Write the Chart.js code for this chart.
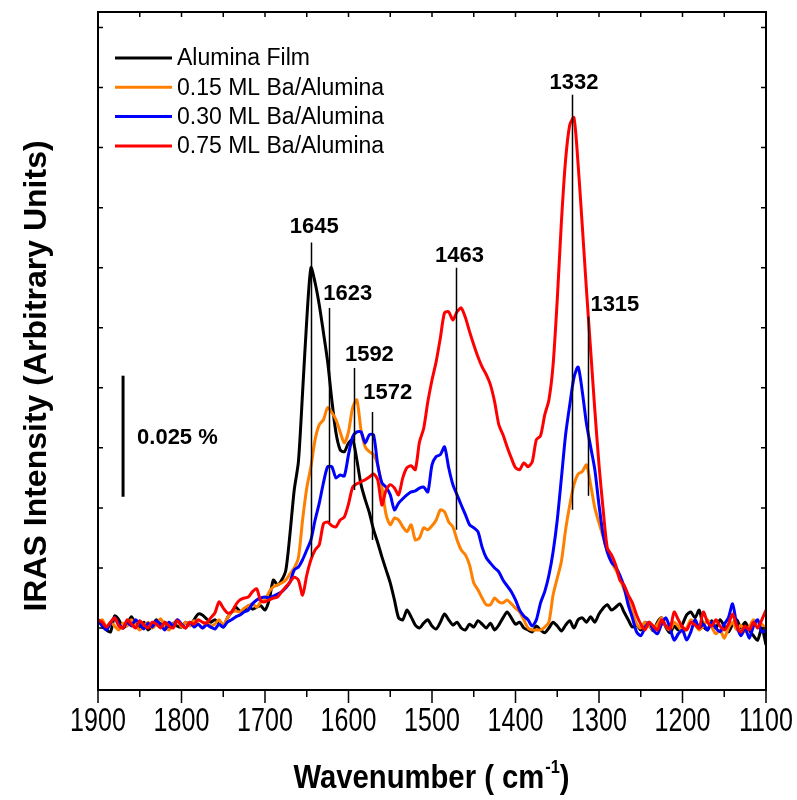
<!DOCTYPE html>
<html>
<head>
<meta charset="utf-8">
<script src="https://cdn.jsdelivr.net/npm/chart.js@4.4.0/dist/chart.umd.min.js"></script>
<style>
  html, body { margin: 0; padding: 0; background: #fff; }
  #wrap { width: 797px; height: 800px; }
</style>
</head>
<body>
<div id="wrap"><canvas id="irasChart" width="797" height="800"></canvas></div>
<script>
// wavenumber grid (cm-1), 1900 -> 1100
const wavenumbers = [
  1900,1895,1890,1885,1880,1875,1870,1865,1860,1855,
  1850,1845,1840,1835,1830,1825,1820,1815,1810,1805,
  1800,1795,1790,1785,1780,1775,1770,1765,1760,1755,
  1750,1745,1740,1735,1730,1725,1720,1715,1710,1705,
  1700,1695,1690,1685,1680,1675,1670,1665,1660,1655,
  1650,1645,1640,1635,1630,1625,1620,1615,1610,1605,
  1600,1595,1590,1585,1580,1575,1570,1565,1560,1555,
  1550,1545,1540,1535,1530,1525,1520,1515,1510,1505,
  1500,1495,1490,1485,1480,1475,1470,1465,1460,1455,
  1450,1445,1440,1435,1430,1425,1420,1415,1410,1405,
  1400,1395,1390,1385,1380,1375,1370,1365,1360,1355,
  1350,1345,1340,1335,1330,1325,1320,1315,1310,1305,
  1300,1295,1290,1285,1280,1275,1270,1265,1260,1255,
  1250,1245,1240,1235,1230,1225,1220,1215,1210,1205,
  1200,1195,1190,1185,1180,1175,1170,1165,1160,1155,
  1150,1145,1140,1135,1130,1125,1120,1115,1110,1105,
  1100
];

// intensities in units of 0.0001 % (scale bar 0.025 % = 250)
const aluminaFilm = [
  145,134,124,120,153,145,128,136,151,136,
  128,140,124,132,145,136,140,130,138,132,
  130,140,134,145,157,155,147,140,145,136,
  130,149,161,171,163,165,174,167,171,174,
  165,186,227,217,227,248,324,413,471,614,
  764,872,841,795,738,678,599,531,496,492,
  510,517,475,424,393,366,331,304,275,248,
  221,186,149,145,165,151,134,128,138,145,
  132,126,140,157,145,134,140,128,124,136,
  130,143,136,128,138,124,134,149,161,149,
  136,140,128,124,120,132,124,118,128,140,
  132,122,134,143,128,145,149,140,151,140,
  157,169,176,165,171,178,161,145,130,134,
  124,140,134,122,140,149,130,118,132,124,
  136,155,161,149,165,132,124,143,128,145,
  132,120,136,145,128,140,124,112,103,128,
  93
];

const ba015 = [
  136,145,130,140,132,124,138,132,145,134,
  124,132,140,128,136,147,132,124,136,145,
  130,140,132,143,136,128,140,132,136,145,
  134,149,161,163,161,169,174,178,171,182,
  186,203,213,217,221,227,240,252,273,351,
  417,461,517,548,558,583,573,558,533,510,
  533,583,599,537,502,492,486,465,419,362,
  341,355,351,337,327,341,310,314,335,331,
  339,351,372,368,347,337,310,289,279,258,
  221,207,190,176,176,190,182,180,186,178,
  169,161,145,128,124,124,124,130,140,196,
  231,266,331,382,424,446,451,465,424,376,
  345,316,285,264,248,231,207,186,161,136,
  128,140,132,124,136,149,132,124,140,132,
  120,128,145,136,124,132,145,130,116,124,
  107,128,140,124,134,120,130,145,128,136,
  124
];

const ba030 = [
  145,132,124,138,149,136,128,140,132,145,
  136,126,138,130,143,134,124,140,132,145,
  136,128,140,130,136,128,134,130,126,136,
  130,140,145,151,155,161,165,178,186,190,
  192,190,194,198,203,211,223,248,254,269,
  289,310,351,386,428,461,461,438,444,442,
  486,523,533,533,510,527,527,465,428,419,
  403,372,386,395,403,409,411,417,419,409,
  465,482,486,502,459,424,403,382,362,341,
  335,327,295,273,262,252,244,227,215,203,
  186,165,153,145,132,145,180,203,237,285,
  351,438,527,589,645,667,616,550,502,455,
  382,320,285,264,254,237,213,176,149,120,
  112,128,140,124,116,136,149,128,103,116,
  124,103,120,145,128,136,124,140,128,120,
  136,149,178,134,112,128,107,132,145,120,
  124
];

const ba075 = [
  145,140,130,140,149,132,128,145,136,128,
  143,134,128,140,136,128,140,132,128,143,
  134,128,140,136,145,140,138,149,159,182,
  169,159,161,176,186,190,192,203,209,184,
  182,186,190,192,203,213,223,233,227,196,
  237,269,289,300,343,347,339,337,351,357,
  384,419,426,430,434,440,446,434,382,413,
  424,417,403,438,459,463,455,512,540,595,
  640,678,727,779,781,764,781,789,769,740,
  713,688,667,651,630,595,548,527,502,479,
  459,455,469,461,471,517,525,568,599,671,
  806,967,1095,1167,1182,1085,958,826,702,578,
  465,372,293,279,258,227,217,196,180,155,
  136,124,140,132,124,145,132,126,161,145,
  130,124,140,134,128,161,140,132,145,132,
  124,136,157,132,120,132,124,140,128,145,
  165
];

// axis ticks
const xTicks = [1900, 1800, 1700, 1600, 1500, 1400, 1300, 1200, 1100];
const xMinorTicks = [1850, 1750, 1650, 1550, 1450, 1350, 1250, 1150];
const yTicks = [128, 252, 376, 500, 624, 748, 872, 996, 1120, 1244, 1368];

// peak markers
const peakLabels = ['1645', '1623', '1592', '1572', '1463', '1332', '1315'];
const peakLineWn = [1645, 1623, 1594, 1572, 1471, 1332, 1313];
const peakLineTop = [924, 789, 665, 574, 872, 1229, 771];
const peakLineBottom = [275, 347, 413, 310, 331, 372, 401];
const peakLabelWn = [1641, 1601, 1575, 1553, 1467, 1330, 1281];
const peakLabelY = [957, 818, 692, 614, 897, 1254, 795];

// scale bar (0.025 %)
const scaleBarWn = 1870;
const scaleBarRange = [399, 649];
const scaleBarText = '0.025 %';

const FONT = '"Liberation Sans", Arial, Helvetica, sans-serif';

function pts(vals) {
  return wavenumbers.map((w, i) => ({ x: w, y: vals[i] }));
}

// draws condensed text like the original figure's narrow face
function squeezed(ctx, text, x, y, sx) {
  ctx.save();
  ctx.translate(x, y);
  ctx.scale(sx, 1);
  ctx.fillText(text, 0, 0);
  ctx.restore();
}

const decor = {
  id: 'decor',
  afterDatasetsDraw(chart) {
    const { ctx, chartArea: a, scales: { x, y } } = chart;
    ctx.save();
    ctx.strokeStyle = '#000';
    ctx.fillStyle = '#000';

    // frame
    ctx.lineWidth = 2;
    ctx.strokeRect(a.left, a.top, a.right - a.left, a.bottom - a.top);

    // ticks
    ctx.lineWidth = 1.5;
    ctx.beginPath();
    xTicks.forEach(v => {
      const px = x.getPixelForValue(v);
      ctx.moveTo(px, a.bottom); ctx.lineTo(px, a.bottom + 13);
      ctx.moveTo(px, a.top); ctx.lineTo(px, a.top + 5);
    });
    xMinorTicks.forEach(v => {
      const px = x.getPixelForValue(v);
      ctx.moveTo(px, a.bottom); ctx.lineTo(px, a.bottom + 7);
      ctx.moveTo(px, a.top); ctx.lineTo(px, a.top + 5);
    });
    yTicks.forEach(v => {
      const py = y.getPixelForValue(v);
      ctx.moveTo(a.left, py); ctx.lineTo(a.left + 5, py);
      ctx.moveTo(a.right, py); ctx.lineTo(a.right - 5, py);
    });
    ctx.stroke();

    // x tick labels
    ctx.font = '33px ' + FONT;
    ctx.textAlign = 'center';
    ctx.textBaseline = 'middle';
    xTicks.forEach(v => squeezed(ctx, String(v), x.getPixelForValue(v), a.bottom + 32, 0.76));

    // peak marker lines + labels
    ctx.lineWidth = 1.5;
    ctx.font = 'bold 22px ' + FONT;
    peakLabels.forEach((t, i) => {
      const px = Math.round(x.getPixelForValue(peakLineWn[i])) + 0.5;
      ctx.beginPath();
      ctx.moveTo(px, y.getPixelForValue(peakLineTop[i]));
      ctx.lineTo(px, y.getPixelForValue(peakLineBottom[i]));
      ctx.stroke();
      ctx.fillText(t, x.getPixelForValue(peakLabelWn[i]), y.getPixelForValue(peakLabelY[i]));
    });

    // scale bar
    const sx = x.getPixelForValue(scaleBarWn);
    ctx.lineWidth = 3;
    ctx.beginPath();
    ctx.moveTo(sx, y.getPixelForValue(scaleBarRange[0]));
    ctx.lineTo(sx, y.getPixelForValue(scaleBarRange[1]));
    ctx.stroke();
    ctx.textAlign = 'left';
    ctx.fillText(scaleBarText, sx + 14, y.getPixelForValue((scaleBarRange[0] + scaleBarRange[1]) / 2) + 2);

    // legend
    ctx.font = '23px ' + FONT;
    chart.data.datasets.forEach((ds, i) => {
      const ly = 58 + i * 29.3;
      ctx.strokeStyle = ds.borderColor;
      ctx.lineWidth = 3;
      ctx.beginPath();
      ctx.moveTo(115, ly); ctx.lineTo(172, ly);
      ctx.stroke();
      ctx.fillText(ds.label, 177, ly + 1);
    });

    // y title
    ctx.save();
    ctx.translate(37, 376);
    ctx.rotate(-Math.PI / 2);
    ctx.textAlign = 'center';
    ctx.font = 'bold 32px ' + FONT;
    ctx.fillText('IRAS Intensity (Arbitrary Units)', 0, 0);
    ctx.restore();

    // x title with superscript
    const k = 0.86;
    const main = 'bold 34px ' + FONT, sup = 'bold 19px ' + FONT;
    const p1 = 'Wavenumber ( cm', p2 = '-1', p3 = ')';
    ctx.font = main; const w1 = ctx.measureText(p1).width * k, w3 = ctx.measureText(p3).width * k;
    ctx.font = sup; const w2 = ctx.measureText(p2).width * k;
    let tx = 431 - (w1 + w2 + w3) / 2;
    const base = 788;
    ctx.textAlign = 'left';
    ctx.textBaseline = 'alphabetic';
    ctx.font = main; squeezed(ctx, p1, tx, base, k); tx += w1;
    ctx.font = sup; squeezed(ctx, p2, tx + 1, base - 15, k); tx += w2 + 1;
    ctx.font = main; squeezed(ctx, p3, tx, base, k);

    ctx.restore();
  }
};

new Chart(document.getElementById('irasChart'), {
  type: 'line',
  data: {
    datasets: [
      { label: 'Alumina Film', data: pts(aluminaFilm), borderColor: '#000000', order: 4 },
      { label: '0.15 ML Ba/Alumina', data: pts(ba015), borderColor: '#FF8000', order: 3 },
      { label: '0.30 ML Ba/Alumina', data: pts(ba030), borderColor: '#0000FF', order: 2 },
      { label: '0.75 ML Ba/Alumina', data: pts(ba075), borderColor: '#FF0000', order: 1 }
    ]
  },
  options: {
    responsive: false,
    animation: false,
    devicePixelRatio: 1,
    layout: { padding: { top: 12, right: 31, left: 0, bottom: 0 } },
    elements: {
      point: { radius: 0 },
      line: { borderWidth: 3, tension: 0.25, fill: false }
    },
    plugins: { legend: { display: false }, tooltip: { enabled: false } },
    scales: {
      x: {
        type: 'linear', min: 1100, max: 1900, reverse: true,
        afterBuildTicks: s => { s.ticks = xTicks.map(v => ({ value: v })); },
        afterFit: s => { s.height = 110; s.paddingLeft = 0; s.paddingRight = 0; },
        grid: { display: false, drawTicks: false },
        border: { display: false },
        ticks: { display: false }
      },
      y: {
        min: 0, max: 1400,
        afterFit: s => { s.width = 98; s.paddingTop = 0; s.paddingBottom = 0; },
        grid: { display: false, drawTicks: false },
        border: { display: false },
        ticks: { display: false }
      }
    }
  },
  plugins: [decor]
});
</script>
</body>
</html>
